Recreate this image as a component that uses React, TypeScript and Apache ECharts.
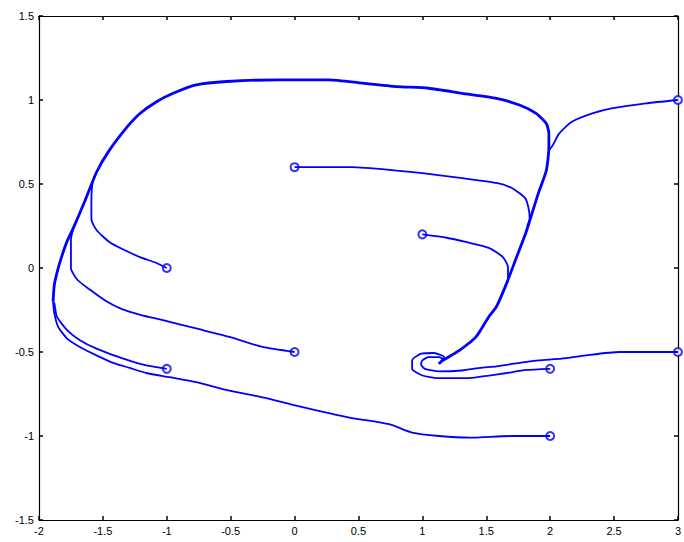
import React, { useEffect, useRef } from "react";
import * as echarts from "echarts";

// Shared limit-cycle-like path that most trajectories follow into the equilibrium
const loopPath: number[][] = [
  [-1.89, -0.2], [-1.88, -0.1], [-1.86, -0.03], [-1.83, 0.05], [-1.78, 0.16], [-1.73, 0.24],
  [-1.64, 0.4], [-1.55, 0.57], [-1.45, 0.7], [-1.31, 0.84], [-1.21, 0.92], [-1.08, 0.99],
  [-0.95, 1.04], [-0.77, 1.09], [-0.53, 1.11], [-0.12, 1.12], [0.27, 1.12], [0.53, 1.1],
  [0.8, 1.08], [1.05, 1.07], [1.31, 1.04], [1.58, 1.01], [1.76, 0.97], [1.89, 0.92],
  [1.97, 0.86], [1.99, 0.8], [1.99, 0.72], [1.97, 0.58], [1.91, 0.45], [1.86, 0.33],
  [1.81, 0.21], [1.73, 0.05], [1.66, -0.09], [1.58, -0.23], [1.52, -0.29], [1.42, -0.41],
  [1.29, -0.49], [1.16, -0.55], [1.13, -0.57],
];

const traj1: number[][] = [
  [-1, 0], [-1.08, 0.03], [-1.21, 0.065], [-1.34, 0.11], [-1.45, 0.155], [-1.55, 0.226],
  [-1.59, 0.29], [-1.59, 0.4], [-1.58, 0.51], [-1.55, 0.57],
];
const traj2: number[][] = [
  [0, 0.6], [0.45, 0.6], [0.8, 0.58], [1.0, 0.565], [1.31, 0.535], [1.58, 0.506],
  [1.7, 0.476], [1.8, 0.42], [1.83, 0.36], [1.84, 0.29], [1.82, 0.25],
];
const traj3: number[][] = [
  [1, 0.2], [1.19, 0.18], [1.34, 0.155], [1.52, 0.12], [1.63, 0.065], [1.67, 0.006],
  [1.67, -0.07], [1.66, -0.09],
];
const traj4: number[][] = [
  [3, 1], [2.75, 0.98], [2.48, 0.95], [2.33, 0.92], [2.17, 0.87], [2.07, 0.8],
  [2.02, 0.73], [1.99, 0.7],
];
const traj5: number[][] = [
  [0, -0.5], [-0.25, -0.47], [-0.51, -0.41], [-0.77, -0.36], [-1.03, -0.31], [-1.2, -0.28],
  [-1.35, -0.245], [-1.47, -0.2], [-1.6, -0.13], [-1.7, -0.07], [-1.75, 0], [-1.75, 0.17], [-1.73, 0.24],
];
const traj6: number[][] = [
  [-1, -0.6], [-1.16, -0.58], [-1.34, -0.54], [-1.55, -0.48], [-1.68, -0.43],
  [-1.78, -0.37], [-1.86, -0.29], [-1.88, -0.21], [-1.89, -0.2],
];
const traj7: number[][] = [
  [2, -1], [1.7, -1], [1.37, -1.01], [1.13, -1.0], [0.92, -0.98], [0.74, -0.93],
  [0.43, -0.89], [0.02, -0.82], [-0.25, -0.77], [-0.51, -0.73], [-0.77, -0.68],
  [-0.98, -0.65], [-1.16, -0.625], [-1.29, -0.595], [-1.42, -0.565], [-1.55, -0.52],
  [-1.68, -0.47], [-1.78, -0.42], [-1.85, -0.35], [-1.88, -0.27], [-1.89, -0.2],
];
const traj8: number[][] = [
  [2, -0.6], [1.81, -0.607], [1.66, -0.625], [1.52, -0.64], [1.37, -0.655], [1.12, -0.655],
  [1.0, -0.64], [0.92, -0.6], [0.92, -0.55], [0.99, -0.51], [1.09, -0.506], [1.17, -0.53],
  [1.13, -0.57],
];
const traj9: number[][] = [
  [3, -0.5], [2.54, -0.5], [2.28, -0.52], [2.09, -0.54], [1.91, -0.55], [1.76, -0.565],
  [1.58, -0.585], [1.45, -0.595], [1.31, -0.61], [1.13, -0.615], [1.02, -0.6],
  [0.99, -0.575], [1.0, -0.55], [1.05, -0.53], [1.13, -0.53], [1.16, -0.545], [1.13, -0.57],
];

const startPoints: number[][] = [
  [-1, 0], [0, 0.6], [1, 0.2], [3, 1], [0, -0.5], [-1, -0.6], [2, -1], [2, -0.6], [3, -0.5],
];

const BLUE = "#0000ff";
const FONT = "Liberation Sans, Arial, sans-serif";

export default function App() {
  const ref = useRef<HTMLDivElement>(null);
  useEffect(() => {
    if (!ref.current) return;
    const chart = echarts.init(ref.current, undefined, { renderer: "svg" });
    const tails = [traj1, traj2, traj3, traj4, traj5, traj6, traj7, traj8, traj9];
    const lineSeries: any[] = tails.map((d) => ({
      type: "line",
      data: d,
      showSymbol: false,
      symbol: "none",
      smooth: 0.2,
      lineStyle: { color: BLUE, width: 1.8 },
      silent: true,
      clip: false,
    }));
    lineSeries.push({
      type: "line",
      data: loopPath,
      showSymbol: false,
      symbol: "none",
      smooth: 0.2,
      lineStyle: { color: BLUE, width: 2.8 },
      silent: true,
      clip: false,
    });
    lineSeries.push({
      type: "scatter",
      data: startPoints,
      symbol: "emptyCircle",
      symbolSize: 8,
      itemStyle: { color: BLUE, borderColor: BLUE, borderWidth: 1.8 },
      silent: true,
      clip: false,
    });
    const axisCommon = {
      type: "value" as const,
      axisLine: { show: true, onZero: false, lineStyle: { color: "#000", width: 1.2 } },
      axisTick: { show: true, inside: true, length: 4, lineStyle: { color: "#000", width: 1.5 } },
      splitLine: { show: false },
    };
    chart.setOption({
      animation: false,
      backgroundColor: "#fff",
      grid: { left: 39, top: 16, width: 640, height: 504, containLabel: false },
      xAxis: [
        {
          ...axisCommon,
          position: "bottom",
          min: -2,
          max: 3,
          interval: 0.5,
          axisLabel: { color: "#000", fontSize: 11, fontFamily: FONT, margin: 5 },
        },
        {
          ...axisCommon,
          position: "top",
          min: -2,
          max: 3,
          interval: 0.5,
          axisLabel: { show: false },
        },
      ],
      yAxis: [
        {
          ...axisCommon,
          position: "left",
          min: -1.5,
          max: 1.5,
          interval: 0.5,
          axisLabel: { color: "#000", fontSize: 11, fontFamily: FONT, margin: 5 },
        },
        {
          ...axisCommon,
          position: "right",
          min: -1.5,
          max: 1.5,
          interval: 0.5,
          axisLabel: { show: false },
        },
      ],
      series: lineSeries,
    });
    return () => chart.dispose();
  }, []);
  return <div ref={ref} style={{ width: 684, height: 542, position: "absolute", left: 0, top: 0 }} />;
}
